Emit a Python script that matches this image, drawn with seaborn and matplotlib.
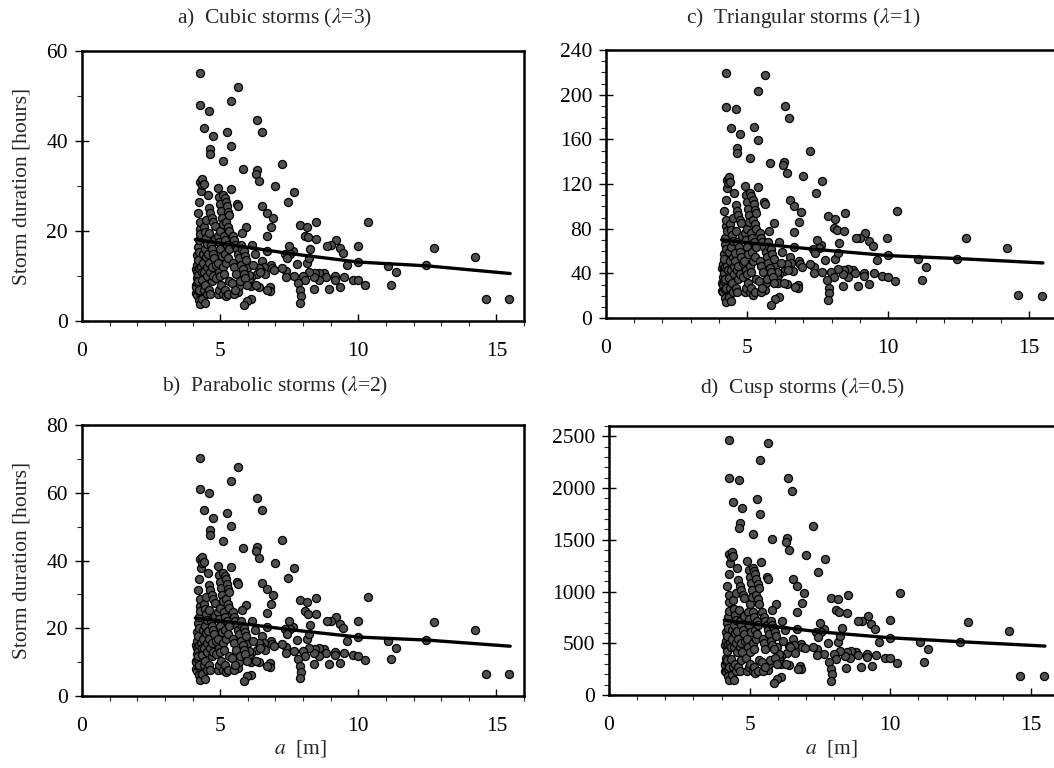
import matplotlib
matplotlib.use("Agg")
import matplotlib.pyplot as plt
import seaborn as sns
from matplotlib.ticker import MultipleLocator

# ---------------- data ----------------
a_m = [
    # isolated points
    4.27, 5.65, 5.38, 4.27, 4.61, 6.35, 4.42, 6.50, 4.74, 5.26, 4.65, 4.63, 5.38, 5.12, 7.24, 5.81, 6.32, 6.29, 6.41, 7.00,
    7.68, 7.44, 6.53, 6.68, 6.93, 6.85, 6.68, 5.95, 10.34, 8.48, 7.89, 8.14, 8.08, 8.19, 8.46, 9.98, 12.76, 14.22, 12.47, 11.07,
    11.35, 11.20, 10.24, 10.00, 14.63, 15.46, 9.20, 9.00, 8.86, 9.33, 9.46, 9.60, 9.80, 10.00, 9.17, 9.50, 9.17, 9.34, 8.95, 8.77,
    8.59, 8.45, 8.84, 8.58, 8.41, 8.40, 8.23, 8.13, 8.23, 8.27, 7.99, 8.08, 7.66, 7.83, 7.90, 7.92, 7.89, 7.77, 7.64, 7.50,
    7.54, 7.36, 7.42, 7.38, 7.38, 7.24, 6.84, 6.87, 6.80, 6.81, 6.71, 6.96, 6.68, 6.53, 6.58, 6.47, 6.62, 6.41, 6.33, 6.41,
    6.13, 6.05, 6.11, 6.13, 5.99, 5.87, 5.65, 5.68, 5.99, 6.05,
    # dense cluster
    4.12, 4.13, 4.11, 4.15, 4.16, 4.14, 4.15, 4.18, 4.19, 4.17, 4.20, 4.21, 4.19, 4.20, 4.22, 4.22, 4.23, 4.21, 4.22,
    4.25, 4.26, 4.24, 4.25, 4.26, 4.28, 4.29, 4.27, 4.28, 4.30, 4.33, 4.34,
    4.36, 4.37, 4.35, 4.36, 4.40, 4.41, 4.39, 4.40, 4.44, 4.45, 4.43, 4.44, 4.48, 4.49, 4.47, 4.52, 4.53, 4.51,
    4.55, 4.56, 4.54, 4.50,
    4.60, 4.61, 4.59, 4.60, 4.65, 4.66, 4.64, 4.65, 4.70, 4.71, 4.69, 4.70, 4.75, 4.76, 4.74, 4.80, 4.81, 4.79, 4.85, 4.86,
    4.92, 4.93, 4.91, 4.92, 4.96, 4.97, 4.95, 4.96, 5.00, 5.01, 4.99, 5.00, 5.04, 5.05, 5.03, 5.08, 5.09,
    5.12, 5.13, 5.11, 5.12, 5.16, 5.17, 5.15, 5.16, 5.20, 5.21, 5.19, 5.20, 5.24, 5.25, 5.23, 5.28, 5.29, 5.27, 5.28,
    5.32, 5.33, 5.31, 5.32, 5.40,
    5.45, 5.46, 5.44, 5.50, 5.51, 5.49, 5.55, 5.56, 5.54, 5.60, 5.61, 5.65, 5.66, 5.70, 5.71,
    5.75, 5.76, 5.80, 5.81, 5.79, 5.85, 5.86, 5.90, 5.91, 5.95, 5.96,
    6.15, 6.25, 6.20, 6.30, 6.45,
]

dur_cubic = [
    55.1, 52.0, 48.9, 48.0, 46.6, 44.7, 42.9, 42.0, 41.1, 41.9, 38.3, 37.1, 38.9, 35.5, 35.0, 33.8, 33.6, 32.7, 31.1, 29.9,
    28.7, 26.5, 25.6, 24.1, 22.8, 20.8, 18.8, 20.8, 21.9, 22.0, 21.4, 21.0, 19.0, 18.6, 18.3, 16.7, 16.2, 14.3, 12.4, 12.3,
    10.8, 8.1, 8.0, 13.2, 5.0, 4.8, 17.9, 17.0, 16.7, 16.2, 15.2, 12.4, 9.2, 9.1, 10.1, 9.7, 9.2, 7.5, 7.2, 10.6,
    10.7, 10.6, 9.8, 9.1, 7.1, 9.7, 10.8, 12.8, 14.0, 15.9, 10.1, 9.1, 10.1, 8.4, 6.9, 5.5, 4.1, 12.6, 15.5, 16.6,
    15.0, 15.0, 13.9, 11.1, 9.8, 11.7, 12.4, 11.7, 7.5, 6.7, 6.9, 11.3, 15.6, 13.4, 12.0, 11.2, 10.4, 7.6, 10.4, 11.8,
    9.8, 9.2, 7.8, 4.9, 4.5, 3.5, 6.5, 7.8, 11.7, 10.2,
    11.5, 8.0, 6.2, 12.4, 9.5, 7.6, 5.8, 10.9, 8.4, 14.6, 24.0, 16.5, 13.5, 10.2, 6.7, 18.0, 11.7, 9.0, 4.7,
    26.5, 20.5, 15.4, 7.0, 3.7, 31.0, 29.0, 22.0, 19.4, 12.0, 30.2, 11.0,
    31.5, 15.0, 9.2, 5.0, 30.5, 20.9, 13.0, 7.0, 19.8, 16.0, 11.0, 3.9, 18.5, 14.2, 8.0, 17.2, 12.0, 6.0,
    28.0, 14.8, 10.0, 22.5,
    25.2, 19.5, 13.0, 7.0, 24.0, 17.0, 11.0, 6.0, 23.0, 16.0, 12.0, 9.0, 22.0, 15.0, 10.0, 21.2, 18.2, 14.0, 12.5, 9.5,
    29.5, 19.0, 13.0, 6.0, 27.5, 17.5, 11.0, 7.0, 26.0, 20.0, 16.0, 10.0, 24.5, 14.5, 8.0, 23.0, 21.5,
    28.0, 19.0, 12.0, 6.0, 27.3, 18.0, 10.5, 7.0, 26.5, 22.0, 15.0, 5.5, 25.5, 17.0, 13.0, 24.3, 21.0, 14.0, 6.0,
    23.5, 20.0, 16.0, 9.0, 29.3,
    19.0, 13.0, 8.5, 18.0, 12.0, 6.0, 17.0, 10.5, 7.0, 26.0, 16.0, 25.5, 15.0, 14.0, 9.0,
    17.0, 12.5, 16.0, 11.5, 19.5, 15.5, 10.5, 14.5, 9.5, 13.5, 8.0,
    17.0, 15.0, 12.5, 8.0, 11.0,
]

dur_tri = [
    219, 218, 203, 189, 187, 190, 170, 179, 165, 171, 152, 148, 159, 143, 150, 139, 140, 137, 130, 127,
    123, 112, 106, 100, 95, 86, 77, 85, 96, 94, 91, 89, 81, 79, 78, 72, 72, 63, 53, 53,
    46, 34, 33, 56, 21, 20, 76, 72, 72, 69, 64.5, 52, 38, 37, 40, 40.6, 37.7, 30.5, 29, 43,
    44, 43, 40, 37, 28.5, 39, 44, 53, 58, 67, 41, 37, 41, 34, 27, 22, 16, 52, 65, 70,
    63, 62, 58, 46, 40, 48, 51, 48, 30, 27, 27.5, 46, 64, 55, 49, 45, 42, 30.5, 42, 48,
    39, 37, 31, 19, 17, 12, 25.5, 31, 47, 41,
    45, 31, 24, 48, 37, 30, 23, 43, 33, 57, 96, 66, 53, 40, 26, 72, 46, 35, 18,
    106, 82, 62, 27, 14, 124, 116, 88, 78, 47, 121, 43,
    126, 59, 36, 19, 122, 84, 51, 27, 79, 64, 43, 15, 74, 55, 31, 69, 47, 23,
    112, 58, 39, 90,
    101, 78, 51, 27, 96, 68, 43, 23, 92, 64, 47, 35, 88, 59, 39, 85, 73, 55, 49, 37,
    118, 76, 51, 23, 110, 70, 43, 27, 104, 80, 64, 39, 98, 57, 31, 92, 86,
    112, 76, 47, 23, 109, 72, 41, 27, 106, 88, 59, 21, 102, 68, 51, 97, 84, 55, 23,
    94, 80, 64, 35, 117,
    76, 51, 33, 72, 47, 23, 68, 41, 27, 104, 64, 102, 59, 55, 35,
    68, 49, 64, 45, 78, 62, 41, 57, 37, 53, 31,
    68, 59, 49, 31, 43,
]

dur_para = [
    70.3, 67.6, 63.5, 61.0, 59.8, 58.5, 54.8, 55.0, 52.6, 54.1, 48.9, 47.6, 50.2, 45.8, 46.1, 43.8, 44.0, 42.8, 40.6, 39.2,
    37.9, 34.9, 33.5, 31.6, 29.8, 27.1, 24.5, 27.0, 29.2, 29.0, 28.3, 27.8, 25.0, 24.3, 24.1, 22.2, 21.9, 19.4, 16.4, 16.2,
    14.3, 10.8, 10.6, 17.4, 6.6, 6.4, 23.4, 22.2, 22.1, 21.4, 20.0, 16.2, 12.0, 11.8, 13.1, 12.8, 12.0, 9.8, 9.5, 13.9,
    14.1, 13.9, 12.8, 11.9, 9.3, 12.7, 14.2, 16.8, 18.4, 21.0, 13.2, 11.8, 13.2, 11.0, 8.9, 7.1, 5.3, 16.6, 20.5, 22.0,
    19.8, 19.7, 18.3, 14.6, 12.8, 15.4, 16.3, 15.4, 9.7, 8.6, 8.9, 14.9, 20.4, 17.6, 15.7, 14.7, 13.6, 9.9, 13.6, 15.5,
    12.8, 12.0, 10.1, 6.3, 5.8, 4.5, 8.4, 10.1, 15.3, 13.3,
    15.0, 10.4, 8.1, 16.1, 12.4, 9.9, 7.5, 14.2, 10.9, 19.0, 31.2, 21.5, 17.6, 13.3, 8.7, 23.4, 15.2, 11.7, 6.1,
    34.5, 26.7, 20.0, 9.1, 4.8, 40.3, 37.7, 28.6, 25.2, 15.6, 39.3, 14.3,
    41.0, 19.5, 12.0, 6.5, 39.7, 27.2, 16.9, 9.1, 25.7, 20.8, 14.3, 5.1, 24.1, 18.5, 10.4, 22.4, 15.6, 7.8,
    36.4, 19.2, 13.0, 29.3,
    32.8, 25.4, 16.9, 9.1, 31.2, 22.1, 14.3, 7.8, 29.9, 20.8, 15.6, 11.7, 28.6, 19.5, 13.0, 27.6, 23.7, 18.2, 16.3, 12.4,
    38.4, 24.7, 16.9, 7.8, 35.8, 22.8, 14.3, 9.1, 33.8, 26.0, 20.8, 13.0, 31.9, 18.9, 10.4, 29.9, 28.0,
    36.4, 24.7, 15.6, 7.8, 35.5, 23.4, 13.7, 9.1, 34.5, 28.6, 19.5, 7.2, 33.2, 22.1, 16.9, 31.6, 27.3, 18.2, 7.8,
    30.6, 26.0, 20.8, 11.7, 38.1,
    24.7, 16.9, 11.1, 23.4, 15.6, 7.8, 22.1, 13.7, 9.1, 33.8, 20.8, 33.2, 19.5, 18.2, 11.7,
    22.1, 16.3, 20.8, 15.0, 25.4, 20.2, 13.7, 18.9, 12.4, 17.6, 10.4,
    22.1, 19.5, 16.3, 10.4, 14.3,
]

dur_cusp = [
    2460, 2440, 2270, 2100, 2080, 2100, 1870, 1970, 1810, 1890, 1660, 1610, 1750, 1560, 1630, 1510, 1520, 1480, 1400, 1350,
    1310, 1190, 1120, 1050, 990, 890, 800, 880, 990, 970, 940, 925, 820, 800, 790, 721, 710, 615, 515, 510,
    440, 315, 310, 550, 185, 180, 760, 720, 715, 690, 640, 510, 360, 355, 400, 385, 365, 285, 275, 420,
    425, 420, 385, 355, 265, 380, 430, 515, 570, 650, 395, 350, 395, 320, 255, 200, 140, 505, 640, 700,
    610, 605, 560, 445, 385, 465, 495, 465, 285, 250, 255, 450, 635, 540, 480, 445, 410, 290, 410, 470,
    380, 355, 295, 170, 150, 113, 240, 295, 460, 400,
    483, 304, 236, 521, 361, 289, 220, 458, 319, 613, 1056, 693, 567, 428, 255, 756, 491, 342, 179,
    1166, 902, 647, 266, 141, 1364, 1276, 968, 815, 504, 1329, 462,
    1386, 630, 350, 190, 1342, 920, 546, 266, 832, 672, 462, 148, 777, 596, 304, 722, 504, 228,
    1232, 622, 420, 990,
    1109, 819, 546, 266, 1056, 714, 462, 228, 1012, 672, 504, 342, 968, 630, 420, 933, 764, 588, 525, 361,
    1298, 798, 546, 228, 1210, 735, 462, 266, 1144, 880, 672, 420, 1078, 609, 304, 1012, 946,
    1232, 798, 504, 228, 1201, 756, 441, 266, 1166, 968, 630, 209, 1122, 714, 546, 1069, 924, 588, 228,
    1034, 880, 672, 342, 1289,
    798, 546, 323, 756, 504, 228, 714, 441, 266, 1144, 672, 1122, 630, 588, 342,
    714, 525, 672, 483, 819, 651, 441, 609, 361, 567, 304,
    714, 630, 525, 304, 462,
]

# fitted trend lines
fit_a = [4.1, 5.0, 7.5, 10.0, 12.5, 15.5]
fit_cubic = [18.1, 17.3, 15.0, 13.1, 12.25, 10.55]
fit_tri = [70.0, 67.5, 61.3, 55.9, 53.2, 49.3]
fit_para = [23.0, 22.2, 19.6, 17.4, 16.5, 14.7]
fit_cusp = [724, 690, 610, 553, 515, 473]

titles = ["a)  Cubic storms ($\\lambda$=3)", "c)  Triangular storms ($\\lambda$=1)",
          "b)  Parabolic storms ($\\lambda$=2)", "d)  Cusp storms ($\\lambda$=0.5)"]
ylabel_text = "Storm duration [hours]"
xlabel_text = "$a$  [m]"

for lst in (dur_cubic, dur_tri, dur_para, dur_cusp):
    assert len(lst) == len(a_m), (len(lst), len(a_m))

# ---------------- plotting ----------------
sns.set_style("white")
plt.rcParams["font.family"] = ["Liberation Serif", "DejaVu Serif"]
plt.rcParams["mathtext.fontset"] = "stix"
FS = 15.5
plt.rcParams["font.size"] = FS

W, H = 1054, 768
fig = plt.figure(figsize=(W / 100, H / 100), dpi=100)


def px_axes(l, t, r, b):
    return fig.add_axes([l / W, 1 - b / H, (r - l) / W, (b - t) / H])


panels = [
    dict(box=(82, 51, 524, 321), y=dur_cubic, fit=fit_cubic, ylim=60, major=20, minor=10,
         title=titles[0], tpos=(275, 18), ylabel=True, xlabel=False),
    dict(box=(606, 50, 1057, 318), y=dur_tri, fit=fit_tri, ylim=240, major=40, minor=10,
         title=titles[1], tpos=(803, 18), ylabel=False, xlabel=False),
    dict(box=(82, 425, 524, 696), y=dur_para, fit=fit_para, ylim=80, major=20, minor=10,
         title=titles[2], tpos=(275, 386), ylabel=True, xlabel=True),
    dict(box=(609, 426, 1059, 695), y=dur_cusp, fit=fit_cusp, ylim=2600, major=500, minor=100,
         title=titles[3], tpos=(803, 388), ylabel=False, xlabel=True),
]

for p in panels:
    ax = px_axes(*p["box"])
    sns.scatterplot(x=a_m, y=p["y"], ax=ax, s=34, color="#505050",
                    edgecolor="black", linewidth=0.9, zorder=3, legend=False)
    sns.lineplot(x=fit_a, y=p["fit"], ax=ax, color="black", linewidth=2.4,
                 zorder=4, legend=False)
    ax.set_xlim(0, 16)
    ax.set_ylim(0, p["ylim"])
    ax.xaxis.set_major_locator(MultipleLocator(5))
    ax.xaxis.set_minor_locator(MultipleLocator(1))
    ax.yaxis.set_major_locator(MultipleLocator(p["major"]))
    ax.yaxis.set_minor_locator(MultipleLocator(p["minor"]))
    for s in ax.spines.values():
        s.set_visible(True)
        s.set_linewidth(1.8)
        s.set_color("black")
    ax.tick_params(axis="x", which="major", direction="in", length=5, width=1,
                   pad=15, labelsize=FS, colors="black", bottom=True)
    ax.tick_params(axis="x", which="minor", direction="out", length=3.5, width=0.8, bottom=True)
    ax.tick_params(axis="y", which="major", direction="inout", length=10, width=1,
                   pad=5, labelsize=FS, colors="black", left=True)
    ax.tick_params(axis="y", which="minor", direction="out", length=3.5, width=0.8, left=True)
    ax.set_xlabel("")
    ax.set_ylabel("")
    l, t, r, b = p["box"]
    if p["ylabel"]:
        ax.set_ylabel(ylabel_text, fontsize=FS)
        ax.yaxis.set_label_coords((32 - l) / (r - l), 0.5)
    if p["xlabel"]:
        ax.set_xlabel(xlabel_text, fontsize=FS)
        ax.xaxis.set_label_coords(0.495, -(738 - b) / (b - t))
    fig.text(p["tpos"][0] / W, 1 - p["tpos"][1] / H, p["title"], ha="center",
             va="center", fontsize=FS)

fig.savefig("out.png", dpi=100)
